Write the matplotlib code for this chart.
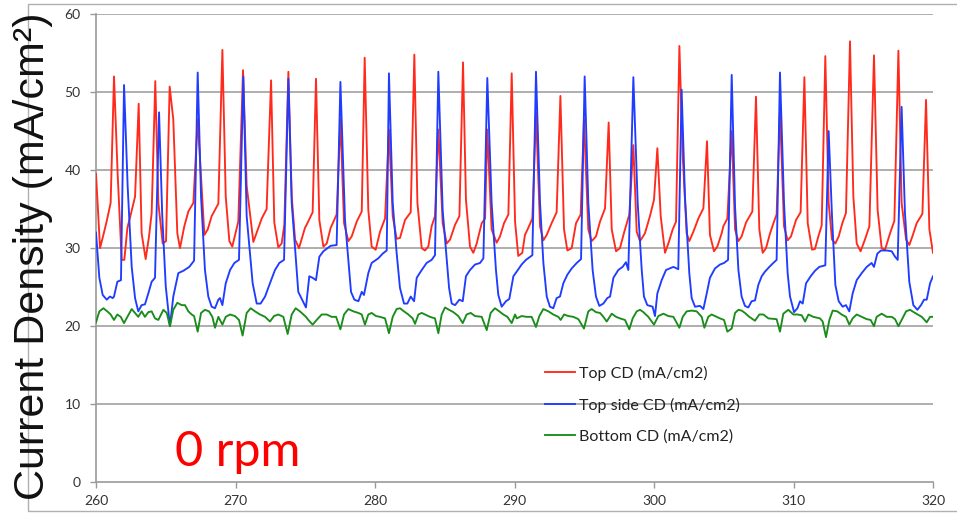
import matplotlib
matplotlib.use("Agg")
import matplotlib.pyplot as plt
from matplotlib.patches import Rectangle

# ---------------- data ----------------
red_t = [260.00, 260.29, 260.53, 260.76, 261.05, 261.29, 261.55, 261.84, 262.03, 262.25, 262.49, 262.80,
         263.06, 263.27, 263.56, 263.80, 263.99, 264.25, 264.47, 264.78, 265.02, 265.28, 265.54, 265.83,
         266.02, 266.33, 266.62, 266.98, 267.29, 267.77, 268.01, 268.29, 268.77, 269.06, 269.30, 269.56,
         269.77, 270.20, 270.54, 270.80, 271.28, 271.52, 271.88, 272.23, 272.55, 272.78, 273.07, 273.31,
         273.50, 273.79, 274.03, 274.27, 274.55, 274.98, 275.10, 275.53, 275.77, 276.01, 276.30, 276.54,
         276.82, 277.25, 277.52, 277.78, 278.09, 278.33, 278.69, 279.05, 279.26, 279.52, 279.76, 280.05,
         280.36, 280.72, 281.00, 281.27, 281.55, 281.79, 282.15, 282.56, 282.82, 283.04, 283.35, 283.58,
         283.82, 284.06, 284.30, 284.54, 284.85, 285.14, 285.38, 285.74, 286.05, 286.31, 286.52, 286.81,
         287.05, 287.29, 287.65, 287.89, 288.05, 288.36, 288.72, 288.96, 289.25, 289.56, 289.80, 290.04,
         290.27, 290.56, 290.75, 290.99, 291.28, 291.54, 291.83, 292.07, 292.31, 292.66, 293.02, 293.29,
         293.55, 293.79, 294.10, 294.41, 294.74, 294.98, 295.29, 295.53, 295.84, 296.13, 296.49, 296.75,
         296.97, 297.28, 297.56, 297.87, 298.23, 298.52, 298.76, 299.00, 299.35, 299.71, 300.00, 300.24,
         300.48, 300.79, 301.03, 301.34, 301.58, 301.82, 302.06, 302.34, 302.53, 302.82, 303.18, 303.54,
         303.80, 304.01, 304.30, 304.54, 304.85, 304.97, 305.26, 305.57, 305.81, 306.05, 306.28, 306.60,
         307.05, 307.31, 307.55, 307.79, 308.03, 308.32, 308.60, 308.79, 309.03, 309.32, 309.58, 309.82,
         310.18, 310.51, 310.78, 311.02, 311.33, 311.54, 311.78, 312.02, 312.28, 312.52, 312.76, 313.00,
         313.24, 313.50, 313.76, 314.05, 314.29, 314.53, 314.81, 315.12, 315.44, 315.77, 316.03, 316.32,
         316.56, 316.92, 317.23, 317.52, 317.75, 318.07, 318.30, 318.54, 318.83, 319.24, 319.50, 319.74,
         320.00]
red_v = [39.5, 30.0, 31.7, 33.4, 35.8, 52.0, 39.6, 28.5, 28.5, 32.6, 34.3, 36.6,
         48.5, 31.9, 28.6, 31.5, 34.5, 51.4, 35.8, 30.6, 30.9, 50.7, 46.5, 31.9,
         30.0, 32.8, 34.7, 35.8, 46.5, 31.7, 32.4, 34.1, 35.7, 55.4, 36.6, 30.9,
         30.2, 33.4, 52.8, 38.0, 30.8, 32.0, 33.8, 35.0, 51.5, 33.3, 30.1, 30.6,
         33.0, 52.6, 36.6, 31.1, 30.0, 32.6, 33.0, 34.6, 51.7, 33.6, 30.2, 30.6,
         32.6, 34.3, 46.5, 33.2, 30.9, 31.5, 33.4, 34.7, 54.4, 34.9, 30.2, 29.8,
         32.1, 33.8, 45.2, 34.1, 31.2, 31.3, 33.6, 34.6, 54.8, 35.8, 30.0, 29.7,
         30.2, 32.8, 34.1, 45.2, 33.2, 30.6, 31.1, 33.0, 34.1, 53.8, 36.2, 30.2,
         29.4, 30.6, 33.2, 33.8, 45.2, 32.4, 30.7, 31.5, 33.2, 34.3, 52.4, 33.4,
         29.0, 29.4, 31.7, 32.6, 33.8, 47.4, 32.8, 31.0, 31.7, 33.2, 34.6, 49.5,
         32.4, 29.7, 30.0, 33.2, 34.3, 46.5, 32.4, 30.9, 31.5, 33.4, 35.1, 46.1,
         32.4, 29.6, 30.0, 32.1, 34.3, 43.2, 32.1, 30.9, 31.9, 34.1, 36.2, 42.8,
         34.1, 29.4, 30.6, 32.4, 33.4, 55.9, 41.8, 31.9, 30.9, 32.1, 33.8, 35.1,
         43.7, 31.7, 29.6, 30.2, 31.9, 32.8, 33.8, 45.0, 32.4, 30.9, 31.5, 33.3,
         34.7, 49.4, 32.4, 29.4, 30.0, 31.9, 33.4, 34.3, 47.7, 32.8, 31.0, 31.5,
         33.6, 34.6, 51.9, 33.2, 29.8, 29.9, 31.5, 32.9, 54.6, 35.8, 31.1, 30.6,
         31.5, 33.2, 34.5, 56.5, 36.6, 30.6, 29.6, 31.1, 32.8, 54.7, 34.9, 30.0,
         29.8, 31.9, 33.5, 55.3, 35.8, 31.1, 30.4, 31.6, 33.2, 34.4, 49.0, 32.4,
         29.4]

blue_t = [260.00, 260.24, 260.48, 260.77, 261.00, 261.20, 261.29, 261.53, 261.79, 262.01, 262.27, 262.56,
          262.80, 263.03, 263.27, 263.51, 263.75, 263.99, 264.23, 264.52, 264.75, 265.00, 265.30, 265.54,
          265.90, 266.26, 266.69, 267.03, 267.29, 267.53, 267.81, 268.05, 268.29, 268.53, 268.77, 268.89,
          269.06, 269.30, 269.61, 269.92, 270.25, 270.56, 270.80, 271.23, 271.52, 271.80, 272.12, 272.47,
          272.83, 273.14, 273.48, 273.79, 274.03, 274.50, 275.05, 275.29, 275.53, 275.77, 276.01, 276.30,
          276.82, 277.25, 277.52, 277.85, 278.09, 278.28, 278.52, 278.81, 279.05, 279.21, 279.52, 279.76,
          280.24, 280.55, 280.84, 281.00, 281.27, 281.55, 281.79, 282.08, 282.32, 282.56, 282.80, 282.99,
          283.35, 283.70, 284.06, 284.30, 284.54, 284.85, 285.14, 285.31, 285.50, 285.74, 286.05, 286.29,
          286.52, 286.81, 287.17, 287.53, 287.77, 288.05, 288.36, 288.67, 288.84, 289.08, 289.39, 289.63,
          289.92, 290.16, 290.51, 290.82, 291.28, 291.54, 291.83, 292.07, 292.31, 292.54, 292.78, 293.02,
          293.26, 293.50, 293.79, 294.10, 294.46, 294.77, 295.03, 295.29, 295.60, 295.84, 296.08, 296.37,
          296.65, 296.85, 297.09, 297.44, 297.75, 297.99, 298.16, 298.52, 298.83, 299.12, 299.28, 299.52,
          299.90, 300.07, 300.24, 300.55, 300.86, 301.39, 301.74, 301.98, 302.22, 302.53, 302.70, 302.94,
          303.30, 303.54, 303.78, 304.01, 304.37, 304.73, 305.02, 305.31, 305.57, 305.81, 306.05, 306.28,
          306.52, 306.76, 307.00, 307.24, 307.48, 307.72, 307.96, 308.27, 308.55, 308.79, 309.03, 309.32,
          309.58, 309.75, 310.04, 310.28, 310.47, 310.66, 310.90, 311.23, 311.54, 311.85, 312.28, 312.52,
          312.76, 313.00, 313.24, 313.52, 313.76, 314.00, 314.24, 314.53, 314.89, 315.25, 315.60, 315.77,
          316.01, 316.27, 316.68, 317.04, 317.28, 317.47, 317.75, 317.99, 318.30, 318.59, 318.88, 319.14,
          319.36, 319.55, 319.79, 320.00]
blue_v = [32.0, 26.2, 24.0, 23.4, 23.8, 23.6, 23.8, 25.7, 25.9, 50.9, 37.9, 27.6,
          23.6, 21.9, 22.7, 22.8, 24.2, 25.7, 26.2, 47.4, 34.1, 25.1, 20.0, 23.8,
          26.8, 27.1, 27.6, 28.4, 52.5, 36.6, 27.2, 23.8, 22.5, 22.3, 23.4, 23.6,
          22.7, 25.5, 27.2, 28.1, 28.5, 52.0, 34.1, 25.5, 22.9, 22.9, 23.8, 25.5,
          27.2, 28.1, 28.5, 51.7, 35.8, 24.4, 22.4, 26.4, 26.2, 25.9, 28.9, 29.6,
          30.3, 30.4, 51.3, 33.6, 28.5, 24.4, 23.4, 23.2, 24.4, 24.0, 26.8, 28.1,
          28.7, 29.3, 29.7, 52.4, 35.8, 29.4, 24.9, 22.9, 22.9, 23.8, 23.2, 26.2,
          27.2, 28.1, 28.5, 29.1, 52.6, 34.9, 28.5, 24.9, 22.9, 22.7, 23.4, 23.2,
          26.4, 27.2, 27.9, 28.1, 28.7, 51.8, 35.8, 27.2, 24.0, 22.5, 23.2, 23.5,
          26.4, 27.0, 27.9, 28.5, 29.1, 52.6, 35.8, 28.1, 23.8, 22.5, 22.3, 23.6,
          23.8, 25.5, 26.6, 27.4, 28.1, 28.6, 52.0, 35.8, 27.2, 23.8, 22.6, 22.9,
          23.6, 23.8, 26.2, 27.2, 27.6, 28.2, 27.2, 51.9, 35.8, 27.2, 23.8, 22.7,
          22.5, 21.3, 24.2, 25.9, 27.2, 27.6, 27.3, 50.3, 36.6, 26.8, 23.6, 22.5,
          22.6, 22.2, 24.2, 26.2, 27.4, 27.9, 28.1, 28.5, 52.2, 35.3, 27.2, 23.8,
          22.6, 22.4, 23.2, 23.3, 25.3, 26.4, 27.0, 27.6, 28.1, 28.5, 52.5, 35.8,
          26.8, 23.8, 21.8, 22.3, 23.2, 22.9, 25.5, 26.4, 27.1, 27.6, 27.8, 45.0,
          34.1, 25.3, 23.2, 22.5, 22.7, 21.9, 24.2, 25.9, 26.8, 27.6, 28.1, 27.6,
          29.3, 29.7, 29.7, 29.6, 28.9, 28.5, 48.1, 34.5, 25.7, 22.7, 22.1, 22.7,
          23.4, 23.4, 25.5, 26.4]

green_t = [260.00, 260.24, 260.53, 260.81, 261.05, 261.29, 261.53, 261.77, 262.01, 262.25, 262.56, 262.80,
           263.03, 263.27, 263.51, 263.75, 263.99, 264.23, 264.47, 264.83, 265.07, 265.30, 265.54, 265.83,
           266.14, 266.38, 266.62, 266.86, 267.03, 267.29, 267.53, 267.81, 268.10, 268.34, 268.53, 268.77,
           269.06, 269.30, 269.61, 269.96, 270.25, 270.51, 270.80, 271.09, 271.40, 271.76, 272.12, 272.47,
           272.76, 273.07, 273.43, 273.74, 274.03, 274.31, 274.62, 275.05, 275.22, 275.53, 275.82, 276.18,
           276.54, 276.89, 277.21, 277.52, 277.78, 278.09, 278.45, 278.81, 279.05, 279.28, 279.52, 279.76,
           280.07, 280.36, 280.72, 281.00, 281.27, 281.55, 281.79, 282.08, 282.39, 282.70, 282.87, 283.11,
           283.35, 283.58, 283.94, 284.30, 284.54, 284.78, 285.02, 285.31, 285.62, 285.97, 286.29, 286.57,
           286.86, 287.17, 287.65, 288.01, 288.29, 288.60, 288.91, 289.20, 289.49, 289.80, 290.04, 290.16,
           290.51, 290.87, 291.23, 291.54, 291.78, 292.07, 292.43, 292.78, 293.14, 293.31, 293.55, 293.86,
           294.22, 294.58, 294.98, 295.29, 295.53, 295.84, 296.13, 296.37, 296.61, 296.97, 297.28, 297.56,
           297.92, 298.23, 298.47, 298.76, 299.00, 299.24, 299.59, 300.00, 300.31, 300.67, 301.03, 301.39,
           301.82, 302.06, 302.34, 302.70, 303.06, 303.42, 303.61, 303.89, 304.13, 304.49, 304.73, 305.02,
           305.26, 305.57, 305.81, 306.05, 306.28, 306.52, 306.83, 307.24, 307.55, 307.84, 308.20, 308.79,
           309.03, 309.27, 309.63, 309.99, 310.28, 310.59, 310.83, 311.07, 311.42, 311.90, 312.09, 312.33,
           312.57, 312.81, 313.14, 313.45, 313.76, 314.00, 314.24, 314.53, 314.89, 315.25, 315.53, 315.77,
           315.96, 316.32, 316.68, 317.04, 317.28, 317.52, 317.75, 318.07, 318.35, 318.71, 319.19, 319.55,
           319.79, 320.00]
green_v = [20.5, 21.9, 22.3, 21.9, 21.5, 20.8, 21.5, 21.2, 20.4, 21.2, 22.2, 21.7,
           21.2, 21.9, 21.2, 21.8, 21.9, 21.0, 20.8, 22.1, 21.7, 20.0, 22.1, 23.0,
           22.7, 22.7, 21.9, 21.5, 21.3, 19.3, 21.7, 22.1, 21.9, 21.2, 19.8, 21.2,
           20.2, 21.2, 21.5, 21.3, 20.8, 18.8, 21.7, 22.3, 21.9, 21.5, 21.2, 20.6,
           21.3, 21.5, 21.2, 19.0, 21.5, 22.3, 21.9, 21.2, 20.8, 20.2, 20.8, 21.5,
           21.5, 21.2, 21.2, 19.6, 21.5, 22.2, 21.9, 21.7, 21.5, 20.2, 21.5, 21.7,
           21.3, 21.2, 21.0, 19.1, 21.2, 22.2, 22.3, 21.9, 21.5, 21.0, 20.3, 21.5,
           21.7, 21.5, 21.2, 21.0, 19.1, 21.5, 22.4, 22.1, 21.8, 21.3, 20.4, 21.5,
           21.7, 21.3, 21.2, 19.5, 21.7, 22.3, 21.9, 21.5, 21.2, 20.4, 21.5, 21.0,
           21.3, 21.2, 21.2, 19.9, 21.3, 22.2, 21.9, 21.5, 21.2, 20.8, 21.5, 21.3,
           21.2, 20.9, 19.7, 21.9, 22.2, 21.8, 21.7, 21.2, 20.6, 21.6, 21.2, 21.0,
           20.8, 19.6, 21.0, 21.9, 22.1, 21.8, 21.2, 20.2, 21.3, 21.6, 21.3, 21.2,
           19.8, 21.2, 21.9, 22.0, 21.9, 21.2, 19.8, 21.2, 21.5, 21.2, 21.0, 20.8,
           19.3, 19.7, 21.7, 22.1, 22.0, 21.7, 21.2, 20.7, 21.5, 21.5, 21.0, 20.9,
           19.3, 21.6, 22.1, 21.5, 21.5, 21.4, 20.6, 21.5, 21.2, 21.0, 20.6, 18.6,
           20.8, 22.0, 21.9, 21.5, 21.2, 20.2, 21.0, 21.5, 21.2, 20.9, 20.8, 20.0,
           21.2, 21.6, 21.2, 21.2, 20.9, 20.0, 20.8, 21.9, 22.1, 21.7, 21.2, 20.5,
           21.2, 21.2]

series_labels = ["Top CD (mA/cm2)", "Top side CD (mA/cm2)", "Bottom CD (mA/cm2)"]
x_ticks = [260, 270, 280, 290, 300, 310, 320]
y_ticks = [0, 10, 20, 30, 40, 50, 60]
y_label = "Current Density (mA/cm\u00b2)"
annotation = "0 rpm"

# ---------------- figure ----------------
W, H = 957, 513
fig = plt.figure(figsize=(W / 100, H / 100), dpi=100)
fig.patch.set_facecolor("white")

# outer frame of the chart object
fig.patches.append(Rectangle((28 / W, 2 / H), 1.0, (509 - 2) / H, transform=fig.transFigure,
                             fill=False, edgecolor="#b0b0b0", linewidth=1.0, zorder=0))

ax = fig.add_axes([96 / W, 1 - 482.3 / H, (933 - 96) / W, (482.3 - 14) / H])
ax.set_facecolor("none")

red_c, blue_c, green_c = "#ff2a1c", "#1f3cff", "#1a8c1a"
lw = 1.35
ax.plot(red_t, red_v, color=red_c, lw=lw, label=series_labels[0], zorder=3)
ax.plot(blue_t, blue_v, color=blue_c, lw=lw, label=series_labels[1], zorder=4)
ax.plot(green_t, green_v, color=green_c, lw=lw, label=series_labels[2], zorder=5)

ax.set_xlim(260, 320)
ax.set_ylim(0, 60)
ax.set_xticks(x_ticks)
ax.set_yticks(y_ticks)
tick_font = "Lato"
ax.set_xticklabels([str(v) for v in x_ticks], fontsize=10, family=tick_font, color="#333333")
ax.set_yticklabels([str(v) for v in y_ticks], fontsize=10, family=tick_font, color="#333333")
ax.tick_params(axis="both", direction="out", length=4, width=1, color="#999999")
ax.tick_params(axis="x", pad=5)
ax.tick_params(axis="y", pad=7)

for y in y_ticks[1:]:
    ax.axhline(y, color="#a8a8a8", lw=1.3, zorder=1)

for s in ["top", "right"]:
    ax.spines[s].set_visible(False)
for s in ["left", "bottom"]:
    ax.spines[s].set_color("#9a9a9a")
    ax.spines[s].set_linewidth(1.2)

leg = ax.legend(loc="upper left", bbox_to_anchor=((545 - 96) / 837, (482.3 - 366) / 468.3),
                frameon=False, borderaxespad=0, borderpad=0, handlelength=1.85,
                handletextpad=0.25, labelspacing=1.05,
                prop={"family": tick_font, "size": 11.5})
for t in leg.get_texts():
    t.set_color("#222222")

fig.text(175 / W, 1 - 466 / H, annotation, color="#ff0000", fontsize=35, family="Lato",
         ha="left", va="baseline")

fig.text(33 / W, 1 - 256 / H, y_label, rotation=90, ha="center", va="center",
         fontsize=31, family="Liberation Sans", color="#111111")

fig.savefig("out.png", dpi=100)
